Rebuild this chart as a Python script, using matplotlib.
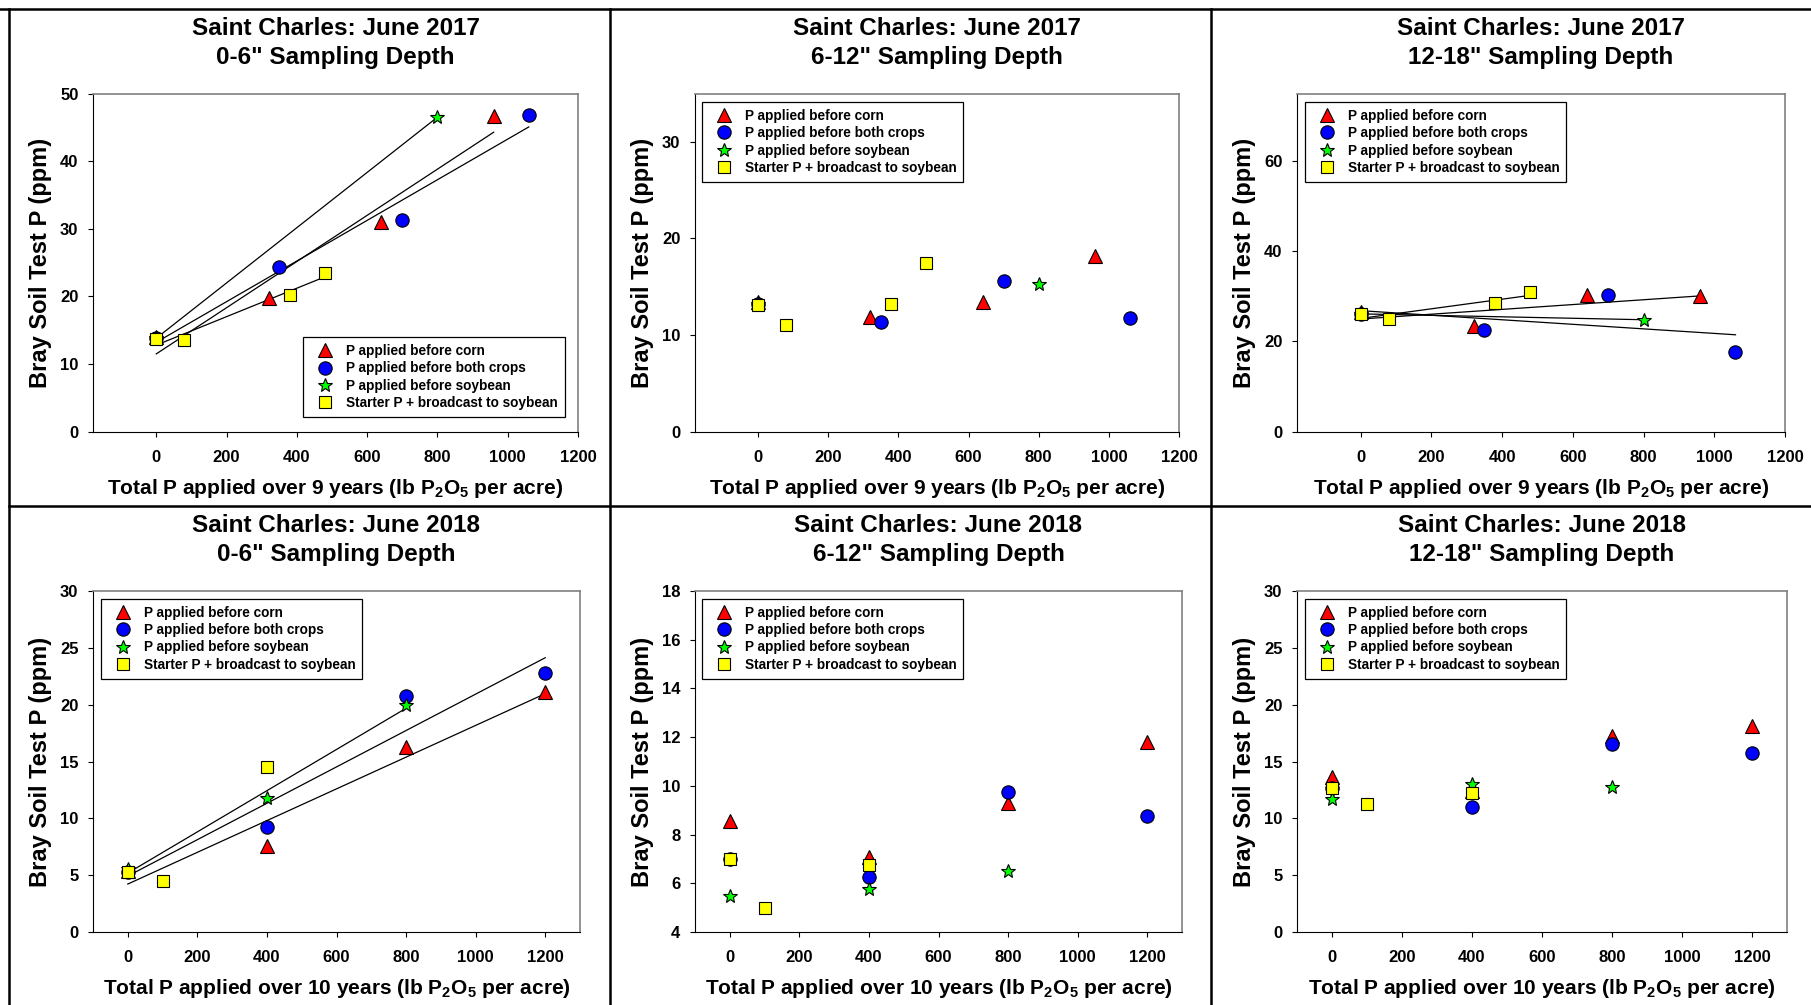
import matplotlib
matplotlib.use('Agg')
import matplotlib.pyplot as plt
import numpy as np
from matplotlib.lines import Line2D

plt.rcParams['font.family'] = ['Liberation Sans', 'DejaVu Sans']
plt.rcParams['font.weight'] = 'bold'
plt.rcParams['mathtext.fontset'] = 'custom'
plt.rcParams['mathtext.rm'] = 'Liberation Sans:bold'
plt.rcParams['mathtext.it'] = 'Liberation Sans:bold'
plt.rcParams['mathtext.bf'] = 'Liberation Sans:bold'
plt.rcParams['mathtext.default'] = 'rm'

seriesNames = ['P applied before corn', 'P applied before both crops',
               'P applied before soybean', 'Starter P + broadcast to soybean']

# P rates (lb P2O5 per acre)
x17Corn = [0, 320, 640, 960]
x17Both = [0, 350, 700, 1060]
x17Soy = [0, 800]
x17Start = [0, 80, 380, 480]
x18Corn = [0, 400, 800, 1200]
x18Both = [0, 400, 800, 1200]
x18Soy = [0, 400, 800]
x18Start = [0, 100, 400]

# Bray P (ppm), June 2017
y17Top = [[14.0, 19.8, 31.0, 46.7], [13.8, 24.3, 31.3, 46.8], [13.8, 46.5], [13.7, 13.5, 20.2, 23.5]]
y17Mid = [[13.4, 11.9, 13.4, 18.2], [13.2, 11.3, 15.6, 11.8], [13.2, 15.25], [13.15, 11.0, 13.25, 17.5]]
y17Deep = [[26.6, 23.3, 30.2, 30.0], [26.1, 22.6, 30.2, 17.7], [26.1, 24.8], [26.1, 24.9, 28.5, 30.9]]
# Bray P (ppm), June 2018
y18Top = [[5.4, 7.57, 16.3, 21.1], [5.3, 9.24, 20.76, 22.8], [5.5, 11.8, 20.0], [5.28, 4.49, 14.5]]
y18Mid = [[8.56, 7.08, 9.30, 11.8], [7.0, 6.26, 9.75, 8.76], [5.48, 5.75, 6.49], [6.98, 5.0, 6.74]]
y18Deep = [[13.6, 12.4, 17.2, 18.1], [12.7, 11.0, 16.5, 15.75], [11.73, 13.05, 12.76], [12.67, 11.23, 12.23]]

titles = ['Saint Charles: June 2017\n0-6" Sampling Depth',
          'Saint Charles: June 2017\n6-12" Sampling Depth',
          'Saint Charles: June 2017\n12-18" Sampling Depth',
          'Saint Charles: June 2018\n0-6" Sampling Depth',
          'Saint Charles: June 2018\n6-12" Sampling Depth',
          'Saint Charles: June 2018\n12-18" Sampling Depth']
xLabel17 = 'Total P applied over 9 years (lb P$_2$O$_5$ per acre)'
xLabel18 = 'Total P applied over 10 years (lb P$_2$O$_5$ per acre)'
yLabel = 'Bray Soil Test P (ppm)'

markers = ['^', 'o', '*', 's']
colors = ['#ff0000', '#0000ff', '#00ff00', '#ffff00']
msizes = [10, 9.6, 10.5, 8.8]

W, H = 1811, 1005
fig = plt.figure(figsize=(W / 100, H / 100), dpi=100)

# panel frames
for x0, y0, x1, y1 in [(0, 9, W, 9), (9, 9, 9, H), (9, 506, W, 506), (610, 9, 610, H), (1211, 9, 1211, H)]:
    fig.add_artist(Line2D([x0 / W, x1 / W], [1 - y0 / H, 1 - y1 / H], color='black', lw=1.8))

panels = [
    # box px, xs, ys, title, xlabel, xlim, ylim, yticks, fits, legend loc, legend anchor
    ((93, 93.5, 578, 431.5), [x17Corn, x17Both, x17Soy, x17Start], y17Top, titles[0], xLabel17,
     (-180, 1200), (0, 50), np.arange(0, 51, 10), [0, 1, 2, 3], 'lower right', (0.973, 0.043)),
    ((695, 93.5, 1179, 431.5), [x17Corn, x17Both, x17Soy, x17Start], y17Mid, titles[1], xLabel17,
     (-180, 1200), (0, 35), np.arange(0, 31, 10), [], 'upper left', (0.0144, 0.975)),
    ((1297, 93.5, 1785, 431.5), [x17Corn, x17Both, x17Soy, x17Start], y17Deep, titles[2], xLabel17,
     (-180, 1200), (0, 75), np.arange(0, 61, 20), [0, 1, 2, 3], 'upper left', (0.016, 0.975)),
    ((93, 591, 580, 932), [x18Corn, x18Both, x18Soy, x18Start], y18Top, titles[3], xLabel18,
     (-100, 1300), (0, 30), np.arange(0, 31, 5), [0, 1, 2], 'upper left', (0.016, 0.977)),
    ((695, 591, 1182, 932), [x18Corn, x18Both, x18Soy, x18Start], y18Mid, titles[4], xLabel18,
     (-100, 1300), (4, 18), np.arange(4, 19, 2), [], 'upper left', (0.0144, 0.977)),
    ((1297, 591, 1787, 932), [x18Corn, x18Both, x18Soy, x18Start], y18Deep, titles[5], xLabel18,
     (-100, 1300), (0, 30), np.arange(0, 31, 5), [], 'upper left', (0.016, 0.977)),
]

for box, xs, ys, title, xlab, xlim, ylim, yticks, fits, loc, anchor in panels:
    left, top, right, bottom = box
    ax = fig.add_axes([left / W, 1 - bottom / H, (right - left) / W, (bottom - top) / H])
    wPx = right - left
    hPx = bottom - top

    # regression lines
    for i in fits:
        coef = np.polyfit(xs[i], ys[i], 1)
        xx = np.array([min(xs[i]), max(xs[i])])
        ax.plot(xx, np.polyval(coef, xx), color='black', lw=0.9, zorder=2)

    for i in range(4):
        ax.plot(xs[i], ys[i], linestyle='none', marker=markers[i], ms=msizes[i],
                mfc=colors[i], mec='black', mew=0.8, label=seriesNames[i], zorder=3 + i)

    ax.set_xlim(xlim)
    ax.set_ylim(ylim)
    ax.set_xticks(np.arange(0, 1201, 200))
    ax.set_yticks(yticks)
    ax.tick_params(direction='out', length=3.5, width=0.8, labelsize=12)
    ax.tick_params(axis='x', pad=9.5)
    ax.tick_params(axis='y', pad=7)
    for s in ['left', 'bottom']:
        ax.spines[s].set_color('black')
        ax.spines[s].set_linewidth(0.8)
    for s in ['top', 'right']:
        ax.spines[s].set_color('#808080')
        ax.spines[s].set_linewidth(1.2)

    ax.set_title(title, fontsize=17.5, fontweight='bold', pad=21.5, linespacing=1.32)
    ax.set_xlabel(xlab, fontsize=15, fontweight='bold')
    ax.xaxis.set_label_coords(0.5, -45 / hPx)
    ax.set_ylabel(yLabel, fontsize=17, fontweight='bold')
    ax.yaxis.set_label_coords(-41 / wPx, 0.5)

    leg = ax.legend(loc=loc, bbox_to_anchor=anchor, borderaxespad=0, fontsize=9.8,
                    numpoints=1, fancybox=False, framealpha=1, edgecolor='black',
                    borderpad=0.5, handlelength=2.2, handletextpad=0.45, labelspacing=0.25)
    leg.get_frame().set_linewidth(0.9)
    for t in leg.get_texts():
        t.set_fontweight('bold')

fig.savefig('out.png', dpi=100)
